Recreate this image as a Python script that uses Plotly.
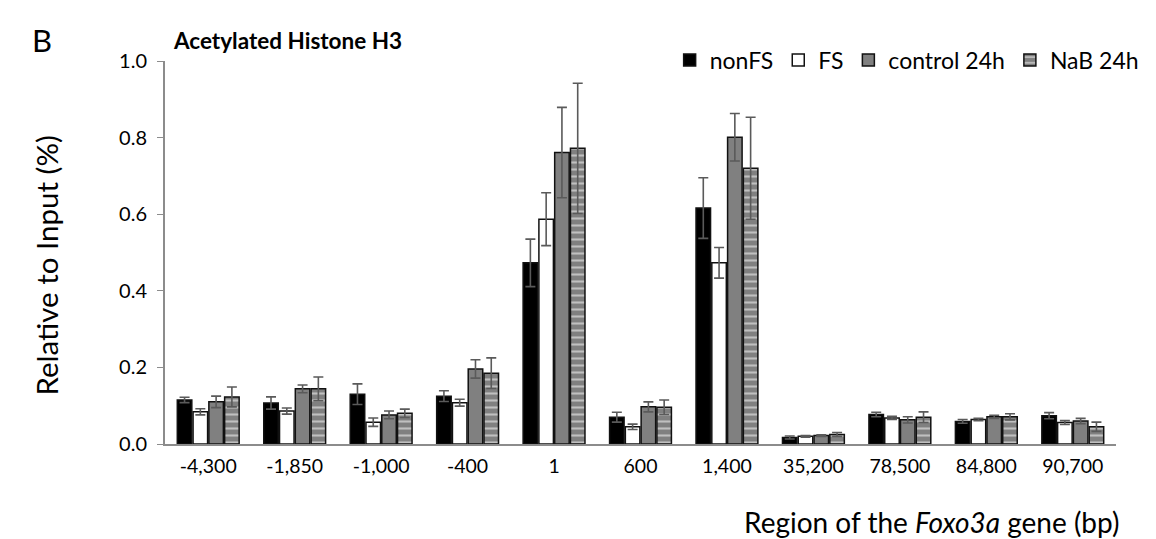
import plotly.graph_objects as go

categories = ["-4,300", "-1,850", "-1,000", "-400", "1", "600", "1,400",
              "35,200", "78,500", "84,800", "90,700"]
series_names = ["nonFS", "FS", "control 24h", "NaB 24h"]

nonfs = [0.115, 0.107, 0.130, 0.125, 0.473, 0.070, 0.616, 0.017, 0.077, 0.059, 0.074]
nonfs_err = [0.007, 0.016, 0.027, 0.014, 0.062, 0.013, 0.079, 0.004, 0.006, 0.005, 0.008]
fs = [0.084, 0.086, 0.057, 0.108, 0.587, 0.045, 0.473, 0.020, 0.068, 0.064, 0.056]
fs_err = [0.008, 0.008, 0.011, 0.009, 0.069, 0.007, 0.040, 0.002, 0.004, 0.003, 0.005]
control = [0.110, 0.144, 0.076, 0.196, 0.761, 0.097, 0.801, 0.022, 0.063, 0.071, 0.060]
control_err = [0.015, 0.010, 0.010, 0.024, 0.118, 0.013, 0.062, 0.002, 0.008, 0.004, 0.007]
nab = [0.123, 0.144, 0.080, 0.185, 0.772, 0.096, 0.720, 0.025, 0.070, 0.071, 0.045]
nab_err = [0.026, 0.031, 0.011, 0.040, 0.170, 0.019, 0.133, 0.005, 0.014, 0.008, 0.012]

y_ticks = [0.0, 0.2, 0.4, 0.6, 0.8, 1.0]

FONT = "Lato"
ERR_COLOR = "#5a5a5a"

L, R, T, B = 165, 28, 61, 95
W, H = 1156, 539
pw = W - L - R
ph = H - T - B


def px(x):
    return (x - L) / pw


def py(y):
    return (H - B - y) / ph


fig = go.Figure()


def add(name, vals, errs, color, pattern=None):
    marker = dict(color=color, line=dict(color="#111111", width=1.5))
    if pattern:
        marker["pattern"] = pattern
    fig.add_trace(go.Bar(
        name=name, x=categories, y=vals,
        marker=marker,
        error_y=dict(type="data", array=errs, visible=True,
                     color=ERR_COLOR, thickness=1.6, width=5),
    ))


add(series_names[0], nonfs, nonfs_err, "#000000")
add(series_names[1], fs, fs_err, "#ffffff")
add(series_names[2], control, control_err, "#808080")
add(series_names[3], nab, nab_err, "#808080",
    pattern=dict(shape="-", fgcolor="#ffffff", bgcolor="#808080",
                 size=7, solidity=0.3, fillmode="overlay"))

annotations = [
    dict(text="B", x=px(40), y=py(40), xanchor="center", yanchor="middle",
         font=dict(size=31, family=FONT)),
    dict(text="<b>Acetylated Histone H3</b>", x=px(171), y=py(40),
         xanchor="left", yanchor="middle", font=dict(size=22.5, family=FONT)),
    dict(text="Relative to Input (%)", textangle=-90, x=px(45), y=py(265),
         xanchor="center", yanchor="middle", font=dict(size=29.5, family=FONT)),
    dict(text="Region of the <i>Foxo3a</i> gene (bp)", x=px(1133), y=py(522),
         xanchor="right", yanchor="middle", font=dict(size=28, family=FONT)),
]
for a in annotations:
    a.update(xref="paper", yref="paper", showarrow=False)

fig.update_layout(
    width=W, height=H,
    margin=dict(l=L, r=R, t=T, b=B),
    paper_bgcolor="white", plot_bgcolor="white",
    barmode="group", bargap=0.27, bargroupgap=0.08,
    font=dict(family=FONT, color="#000000", size=20),
    showlegend=True,
    legend=dict(orientation="h", x=px(1156), xanchor="right", y=py(60), yanchor="middle",
                font=dict(family=FONT, size=23), bgcolor="rgba(0,0,0,0)",
                itemwidth=30, traceorder="normal"),
    xaxis=dict(showline=True, linecolor="#8c8c8c", linewidth=2, ticks="",
               tickfont=dict(size=19.5), showgrid=False, ticklabelstandoff=4),
    yaxis=dict(range=[0, 1.0], tickvals=y_ticks, tickformat=".1f",
               showline=True, linecolor="#8c8c8c", linewidth=2,
               ticks="outside", ticklen=6, tickcolor="#8c8c8c",
               tickfont=dict(size=20), showgrid=False, zeroline=False,
               ticklabelstandoff=6),
    annotations=annotations,
)

fig.write_html("out.html")
